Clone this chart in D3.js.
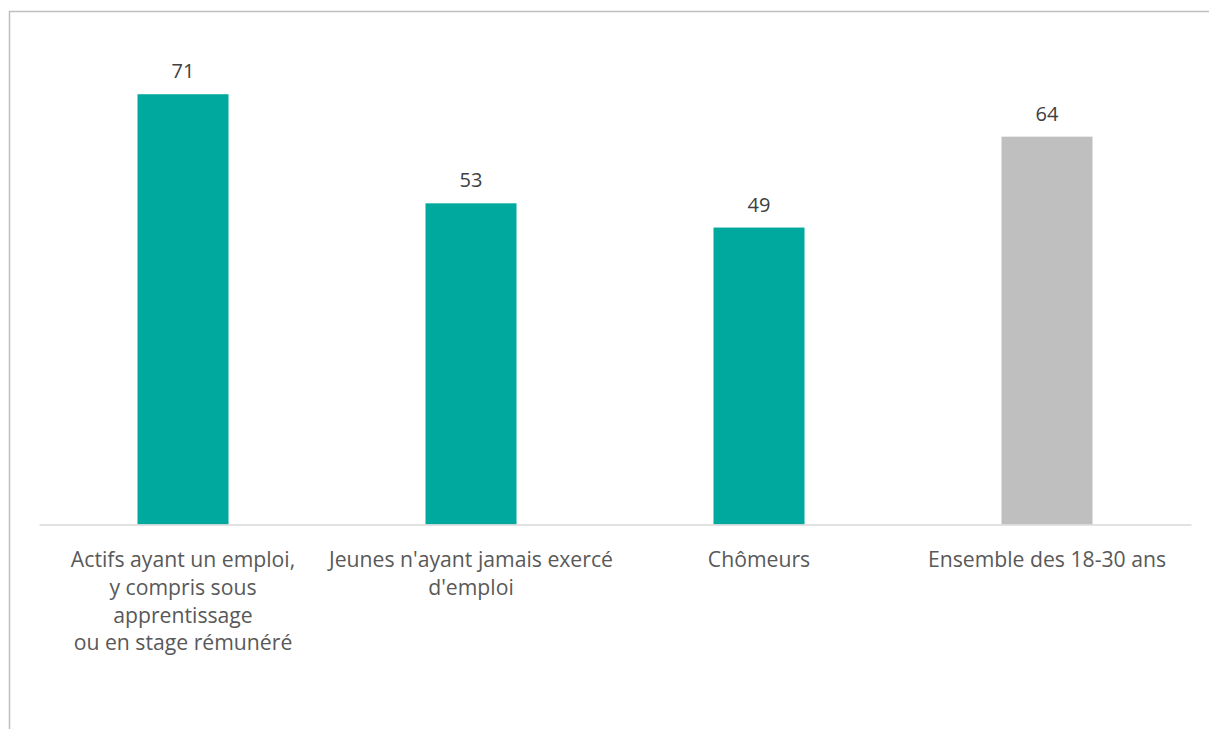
<!DOCTYPE html>
<html><head><meta charset="utf-8">
<script src="https://cdn.jsdelivr.net/npm/d3@7"></script>
<style>html,body{margin:0;padding:0;background:#fff;}svg{display:block;}</style>
</head><body>
<script>
const categories = [
  ["Actifs ayant un emploi,", "y compris sous", "apprentissage", "ou en stage rémunéré"],
  ["Jeunes n'ayant jamais exercé", "d'emploi"],
  ["Chômeurs"],
  ["Ensemble des 18-30 ans"]
];
const keys = ["actifs", "jamais", "chomeurs", "ensemble"];
const values = [71, 53, 49, 64];
const colors = ["#00A99D", "#00A99D", "#00A99D", "#BFBFBF"];

const W = 1209, H = 729;
const svg = d3.select("body").append("svg").attr("width", W).attr("height", H);
svg.append("rect").attr("x", 9.5).attr("y", 11.5).attr("width", 1220).attr("height", 740)
  .attr("fill", "#fff").attr("stroke", "#BFBFBF").attr("stroke-width", 1.5);

const x = d3.scaleBand().domain(keys).range([39, 1191]).paddingInner(0.684).paddingOuter(0.342);
const y = d3.scaleLinear().domain([0, 80]).range([524.5, 524.5 - 80 * 6.06]);

const font = "'Open Sans', sans-serif";

svg.selectAll("rect.bar").data(values).join("rect").attr("class", "bar")
  .attr("x", (d, i) => x(keys[i])).attr("width", x.bandwidth())
  .attr("y", d => y(d)).attr("height", d => y(0) - y(d))
  .attr("fill", (d, i) => colors[i]);

const ax = svg.append("g").attr("transform", `translate(0,${y(0)})`)
  .call(d3.axisBottom(x).tickSize(0).tickFormat(""));
ax.select(".domain").attr("stroke", "#D9D9D9").attr("stroke-width", 1.5);

svg.selectAll("text.val").data(values).join("text").attr("class", "val")
  .attr("x", (d, i) => x(keys[i]) + x.bandwidth() / 2)
  .attr("y", d => y(d) - 16)
  .attr("text-anchor", "middle").attr("font-family", font).attr("font-size", 20)
  .attr("fill", "#404040").text(d => d);

categories.forEach((lines, i) => {
  const t = svg.append("text").attr("text-anchor", "middle").attr("font-family", font)
    .attr("font-size", 21.2).attr("fill", "#595959");
  lines.forEach((l, j) => {
    t.append("tspan").attr("x", x(keys[i]) + x.bandwidth() / 2).attr("y", 567 + j * 27.8).text(l);
  });
});
</script>
</body></html>
